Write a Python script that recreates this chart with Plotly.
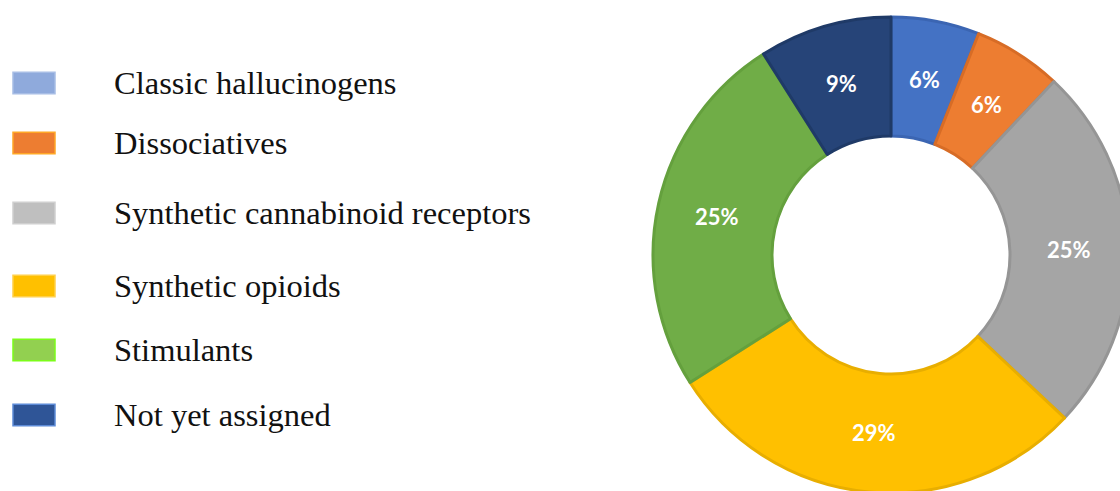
import math
import plotly.graph_objects as go

# ---- data ----
categories = ["Classic hallucinogens", "Dissociatives", "Synthetic cannabinoid receptors",
              "Synthetic opioids", "Stimulants", "Not yet assigned"]
shares = [6, 6, 25, 29, 25, 9]

slice_colors = ["#4472C4", "#ED7D31", "#A5A5A5", "#FFC000", "#70AD47", "#264478"]
slice_borders = ["#3B65B2", "#D76C26", "#959595", "#E8AE00", "#64A03D", "#1F3A67"]
legend_fill = ["#8FAADC", "#ED7D31", "#BFBFBF", "#FFC000", "#92D050", "#2F5597"]
legend_border = ["#A7BDE5", "#FFA726", "#CFCFCF", "#FFD04A", "#7CFC1A", "#5C8AD6"]

# ---- layout geometry (pixels) ----
W, H = 1140, 500
cx, cy, R = 891, 255, 238
HOLE = 0.5
row_y = [83, 143, 213, 286, 350, 415]
sw_x0, sw_x1, sw_h = 13, 55, 21.5
text_x = 112


def px(x):
    return x / W


def py(y):
    return 1 - y / H


fig = go.Figure()
fig.add_trace(go.Pie(
    labels=categories,
    values=shares,
    hole=HOLE,
    sort=False,
    direction="clockwise",
    rotation=0,
    marker=dict(colors=slice_colors, line=dict(color=slice_borders, width=3)),
    textinfo="none",
    showlegend=False,
    domain=dict(x=[px(cx - R), px(cx + R)], y=[py(cy + R), py(cy - R)]),
    hoverinfo="label+percent",
))

shapes = []
annotations = []

# data labels placed at the middle of each ring segment
total = sum(shares)
cum = 0
r_mid = R * (1 + HOLE) / 2
for v in shares:
    ang = 2 * math.pi * (cum + v / 2) / total
    cum += v
    lx = cx + r_mid * math.sin(ang)
    ly = cy - r_mid * math.cos(ang)
    annotations.append(dict(
        x=px(lx), y=py(ly), xref="paper", yref="paper",
        xanchor="center", yanchor="middle", showarrow=False,
        text=f"{round(100 * v / total)}%",
        font=dict(family="Lato", size=22, color="white", weight="bold"),
    ))

# custom legend
for i, name in enumerate(categories):
    yc = row_y[i]
    shapes.append(dict(
        type="rect", xref="paper", yref="paper",
        x0=px(sw_x0), x1=px(sw_x1), y0=py(yc + sw_h / 2), y1=py(yc - sw_h / 2),
        fillcolor=legend_fill[i], line=dict(color=legend_border[i], width=1.5),
    ))
    annotations.append(dict(
        x=px(text_x), y=py(yc), xref="paper", yref="paper",
        xanchor="left", yanchor="middle", showarrow=False,
        text=name, font=dict(family="Liberation Serif", size=32.5, color="#111111"),
    ))

fig.update_layout(
    width=W, height=H,
    margin=dict(l=0, r=0, t=0, b=0),
    paper_bgcolor="white", plot_bgcolor="white",
    shapes=shapes, annotations=annotations,
)

fig.write_html(
    "out.html",
    post_script="document.documentElement.style.overflow='hidden';document.body.style.overflow='hidden';document.body.style.margin='0';",
)
